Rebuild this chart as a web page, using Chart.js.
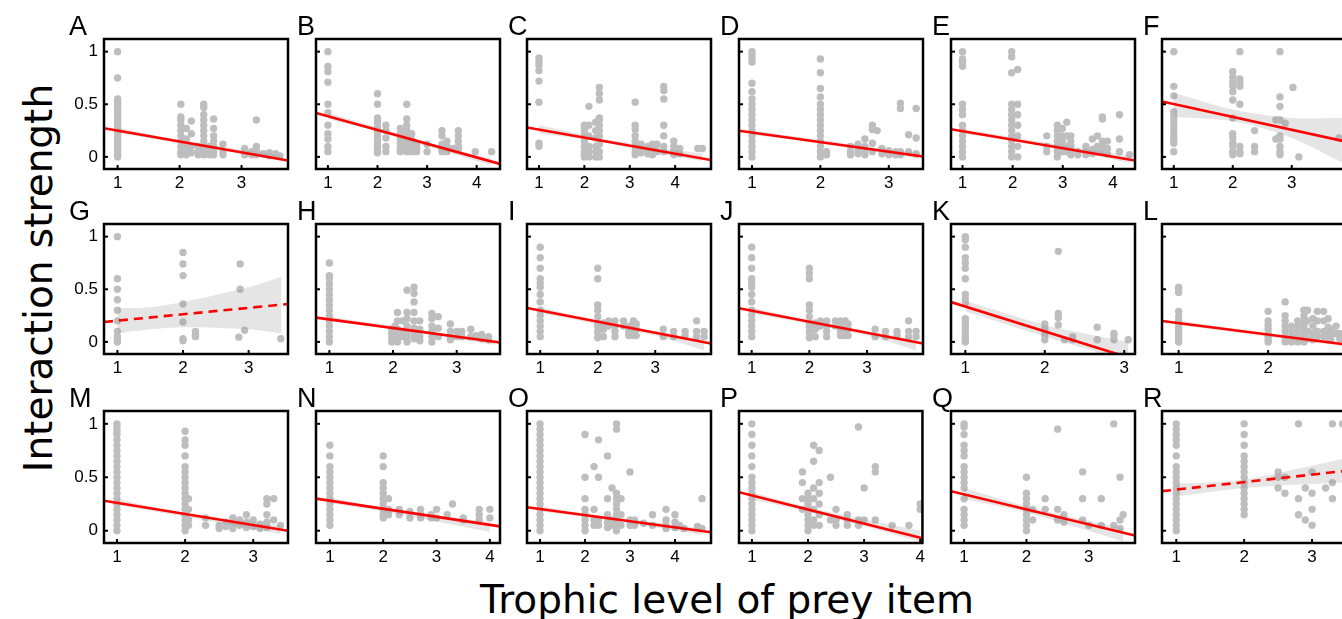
<!DOCTYPE html>
<html>
<head>
<meta charset="utf-8">
<script src="https://cdn.jsdelivr.net/npm/chart.js@4.4.0/dist/chart.umd.min.js"></script>
<style>
  body { margin: 0; width: 1342px; height: 619px; overflow: hidden; background: #fff; position: relative; }
  canvas { position: absolute; }
  .axis-title { position: absolute; font-family: "DejaVu Sans", sans-serif; font-size: 39px; color: #000; white-space: nowrap; }
  #ylab { left: 38px; top: 278px; transform: translate(-50%, -50%) rotate(-90deg); }
  #xlab { left: 727px; top: 599px; transform: translate(-50%, -50%); }
</style>
</head>
<body>
<div id="ylab" class="axis-title">Interaction strength</div>
<div id="xlab" class="axis-title">Trophic level of prey item</div>
<script>
// panel letters, axis ticks, x ranges
const panelLetters = ['A','B','C','D','E','F','G','H','I','J','K','L','M','N','O','P','Q','R'];
const xTicks = [
  [1,2,3],[1,2,3,4],[1,2,3,4],[1,2,3],[1,2,3,4],[1,2,3],
  [1,2,3],[1,2,3],[1,2,3],[1,2,3],[1,2,3],[1,2],
  [1,2,3],[1,2,3,4],[1,2,3,4],[1,2,3,4],[1,2,3],[1,2,3]
];
const xRanges = [
  [0.78,3.75],[0.76,4.47],[0.736,4.79],[0.81,3.5],[0.77,4.44],[0.8,3.92],
  [0.796,3.6],[0.79,3.68],[0.77,3.97],[0.78,3.97],[0.82,3.135],[0.814,2.87],
  [0.81,3.51],[0.74,4.19],[0.71,4.8],[0.77,4.04],[0.79,3.74],[0.79,3.5]
];
const yTicks = [0, 0.5, 1];
const yTickLabels = ['0', '0.5', '1'];

// points: [x, [y values at that x]]
const pointsA = [[1,[1,.75,.55,.52,.5,.47,.44,.41,.38,.35,.32,.29,.26,.23,.2,.17,.14,.11,.08,.05,.02,0]],[2.02,[.5,.38,.35,.3,.25,.2,.15,.1,.05,.02]],[2.11,[.27,.17,.1,.05,.02]],[2.19,[.34,.22,.1,.04]],[2.3,[.1,.05,.02]],[2.39,[.5,.47,.4,.35,.3,.25,.2,.15,.1,.05,.02]],[2.48,[.1,.05,.02]],[2.55,[.36,.27,.2,.15,.1,.05,.02]],[2.7,[.12,.05,.02]],[3.05,[.08,.04,.02]],[3.16,[.05,.02]],[3.24,[.35,.1,.06,.02]],[3.35,[.03]],[3.45,[.04,.01]],[3.55,[.03]],[3.62,[.01]]];
const pointsB = [[1,[1,.86,.81,.71,.5,.42,.3,.22,.17,.1,.05]],[2,[.6,.5,.37,.33,.28,.24,.2,.16,.12,.08,.04]],[2.17,[.3,.25,.18,.1,.05]],[2.46,[.27,.22,.17,.13,.08,.05]],[2.59,[.5,.36,.3,.25,.2,.15,.1,.05]],[2.69,[.22,.16,.1,.05]],[2.79,[.12,.08,.05]],[3,[.12,.05]],[3.3,[.25,.2,.12,.07,.05]],[3.4,[.15,.1,.05]],[3.53,[.08]],[3.63,[.25,.2,.15,.1,.07]],[3.97,[.05]],[4.3,[.05]]];
const pointsC = [[1,[.94,.9,.87,.82,.72,.52,.13,.1]],[2,[.3,.28,.25,.2,.15,.1,.05,.02,0]],[2.1,[.48,.3,.2,.1,.05,0]],[2.25,[.33,.25,.18,.1,.05,0]],[2.33,[.66,.6,.54,.37,.35,.3,.25,.2,.12,.05,0]],[3.12,[.52,.3,.26,.2,.15,.1,.05,.02]],[3.25,[.12,.08,.04]],[3.4,[.1,.06,.03]],[3.5,[.12,.08,.04,.02]],[3.6,[.12,.05]],[3.75,[.67,.63,.55,.3,.2,.1,.05]],[3.97,[.15,.1,.06,.02]],[4.1,[.08,.03]],[4.5,[.08]],[4.6,[.08]]];
const pointsD = [[1,[1,.97,.93,.9,.7,.62,.55,.5,.45,.4,.35,.3,.25,.2,.15,.1,.05,0]],[2,[.93,.8,.65,.57,.5,.45,.4,.35,.3,.25,.2,.15,.1,.05,0]],[2.09,[.05,.02]],[2.44,[.1,.05,.02]],[2.55,[.12,.07,.03]],[2.65,[.17,.1,.05,.02]],[2.76,[.3,.26,.13,.05]],[2.83,[.25]],[2.9,[.08,.03]],[3,[.06,.02]],[3.1,[.05,.02]],[3.17,[.51,.46,.05,.02]],[3.29,[.21,.05]],[3.4,[.46,.18,.03]]];
const pointsE = [[1,[1,.93,.9,.86,.5,.45,.4,.3,.25,.2,.15,.1,.05,0]],[1.98,[1,.95,.8,.5,.45,.4,.35,.3,.25,.2,.15,.1,.05,0]],[2.1,[.83,.5,.4,.3,.2,.1,0]],[2.68,[.2,.1,.05]],[2.89,[.3,.25,.2,.15,.1,.05,0]],[2.99,[.27,.2,.15,.1,.05]],[3.08,[.33,.2,.1,.05]],[3.16,[.2,.15,.1,.05,.02]],[3.3,[.05,.02]],[3.46,[.1,.05,.02]],[3.59,[.17,.07,.03]],[3.69,[.2,.1,.05]],[3.79,[.38,.36,.15,.1,.05]],[3.89,[.15,.08,.03]],[4.13,[.4,.17,.05]],[4.33,[.02]]];
const pointsF = [[1,[1,.67,.58,.43,.39,.35,.31,.27,.23,.19,.15,.13,.05]],[2,[.81,.76,.71,.67,.62,.54,.37,.22,.18,.13,.1,.05,.02]],[2.12,[1,.74,.7,.67,.5,.1,.05,.03]],[2.37,[.25,.1,.05]],[2.73,[.35,.17]],[2.8,[1,.57,.48,.35,.2,.17,.1,.05,.02]],[2.89,[.32]],[3.02,[.66]],[3.12,[0]],[3.8,[.18]]];
const pointsG = [[1,[1,.6,.5,.4,.3,.2,.1,.05,.03,0]],[2,[.85,.74,.63,.36,.19,.03,.01]],[2.19,[.1,.07,.05]],[2.85,[.045]],[2.87,[.74,.5]],[2.94,[.11]],[3.49,[.03]]];
const pointsH = [[1,[.75,.63,.6,.55,.5,.45,.4,.35,.3,.25,.2,.15,.1,.05,0]],[1.98,[.12,.08,.04,0]],[2.03,[.15,.1,.05,.01]],[2.07,[.28,.2,.12,.05,0]],[2.15,[.2,.1,.05]],[2.22,[.49,.28,.22,.15,.1,.05,0]],[2.33,[.52,.46,.38,.28,.2,.13,.08,.03]],[2.42,[.2,.12,.05,.01]],[2.61,[.27,.22,.15,.1,.05,0]],[2.71,[.24,.13,.05]],[2.9,[.17,.1,.05,.02]],[3,[.1,.05]],[3.08,[.1,.05]],[3.22,[.12,.05]],[3.3,[.06]],[3.39,[.07,.03]],[3.5,[.05,.02]]];
const pointsI = [[1,[.9,.8,.7,.6,.56,.52,.45,.38,.3,.25,.2,.15,.1,.05]],[2,[.7,.6,.35,.3,.24,.18,.14,.09,.04]],[2.1,[.18,.12,.05]],[2.19,[.2,.15]],[2.3,[.2,.15,.1,.05]],[2.45,[.2,.15]],[2.54,[.15,.1,.06]],[2.62,[.2,.17,.12,.08,.06]],[2.67,[.17,.12,.06]],[3.14,[.12,.05]],[3.32,[.1,.05]],[3.52,[.1,.06]],[3.72,[.2,.1,.05]],[3.85,[.1,.05]]];
const pointsJ = [[1,[.9,.8,.7,.6,.56,.52,.45,.38,.3,.25,.2,.15,.1,.05]],[2,[.7,.65,.6,.35,.3,.24,.18,.14,.09,.04]],[2.1,[.18,.12,.05]],[2.19,[.2,.15]],[2.3,[.2,.15,.1,.05]],[2.45,[.2,.15]],[2.54,[.2,.15,.1,.06]],[2.62,[.2,.17,.12,.08,.06]],[2.67,[.17,.12,.06]],[3.14,[.12,.05]],[3.32,[.1,.05]],[3.52,[.1,.06]],[3.72,[.2,.1,.05]],[3.85,[.1,.05]]];
const pointsK = [[1,[1,.97,.9,.8,.75,.7,.6,.45,.41,.37,.22,.18,.15,.12,.08,.05,.02,0]],[2,[.17,.13,.1,.06,.02]],[2.17,[.86,.27,.23,.16]],[2.25,[.02]],[2.35,[.05,.02]],[2.66,[.14,.02]],[2.87,[.08,.06,.02]],[3.05,[.02]]];
const pointsL = [[1,[.52,.5,.47,.29,.24,.2,.17,.14,.11,.08,.05,.02,0]],[2,[.29,.2,.16,.12,.08,.05,.02,0]],[2.19,[.38,.25,.2,.15,.1,.05,0]],[2.26,[.15,.1,.05,0]],[2.33,[.2,.15,.1,.05,0]],[2.4,[.3,.25,.2,.15,.1,.05,0]],[2.44,[.3,.2,.1,.03]],[2.5,[.22,.15,.08,.02]],[2.55,[.29,.2,.1,.05]],[2.62,[.29,.2,.1,.05]],[2.67,[.22,.14,.07,.02]],[2.7,[.12,.06,.02]],[2.76,[.15,.08]],[2.8,[.08,.03]],[2.85,[.05]]];
const pointsM = [[1,[1,.97,.93,.9,.85,.8,.75,.7,.65,.6,.55,.5,.45,.4,.35,.3,.25,.2,.15,.1,.05,0]],[2,[.93,.85,.8,.7,.6,.55,.5,.45,.4,.35,.3,.25,.2,.15,.1,.05,0]],[2.05,[.3,.2,.1,.05]],[2.3,[.12,.05]],[2.5,[.05,.02]],[2.6,[.08,.04]],[2.7,[.12,.06,.02]],[2.8,[.1,.05]],[2.9,[.15,.08,.03]],[3,[.1,.04]],[3.1,[.06,.02]],[3.2,[.3,.25,.15,.08,.03]],[3.3,[.3,.1]],[3.4,[.05]]];
const pointsN = [[1,[.8,.7,.6,.55,.5,.45,.4,.35,.3,.25,.2,.15,.1,.05]],[2,[.7,.6,.45,.4,.35,.3,.25,.2,.15,.12]],[2.1,[.3,.2,.15]],[2.3,[.2,.15]],[2.5,[.18,.12]],[2.7,[.2,.15,.12]],[2.9,[.15,.12]],[3,[.2,.12]],[3.2,[.15]],[3.3,[.25]],[3.5,[.12,.1]],[3.8,[.2,.15,.1]],[4,[.2,.12]]];
const pointsO = [[1,[1,.95,.9,.85,.8,.75,.7,.65,.6,.55,.5,.45,.4,.35,.3,.25,.2,.15,.1,.05,0]],[2,[.9,.5,.3,.2,.15,.1,.05,0]],[2.2,[.6,.2,.1,.05]],[2.3,[.85,.5,.1,.05]],[2.5,[.7,.3,.15,.08,.03]],[2.6,[.4,.1,.05]],[2.7,[1,.95,.35,.3,.25,.2,.15,.1,.05,0]],[2.8,[.3,.15,.05]],[3,[.55,.1,.05]],[3.1,[.1,.05]],[3.3,[.07]],[3.5,[.15,.05]],[3.8,[.2,.1,.05,.02]],[4,[.15,.08,.03]],[4.1,[.05]],[4.2,[.02]],[4.5,[.04]],[4.6,[.3,.02]]];
const pointsP = [[1,[1,.9,.8,.7,.6,.5,.45,.4,.35,.3,.25,.2,.15,.1,.05,0]],[1.9,[.55,.45,.3,.2]],[2,[.35,.3,.25,.2,.15,.1,.05,0]],[2.1,[.8,.65,.4,.3,.2,.1,.05]],[2.2,[.75,.45,.35,.25,.15,.05]],[2.4,[.5,.1]],[2.5,[.2,.1,.05]],[2.7,[.15,.1,.05]],[2.9,[.97,.1,.05]],[3,[.4,.1]],[3.2,[.6,.55,.1]],[3.5,[.05]],[3.8,[.05]],[4,[.25,.2]]];
const pointsQ = [[1,[1,.97,.9,.8,.75,.7,.6,.55,.5,.45,.4,.3,.2,.15,.1,.05]],[2,[.5,.35,.3,.25,.2,.15,.1,.05,0]],[2.1,[.2,.1]],[2.3,[.3,.2]],[2.5,[.95,.2,.1]],[2.6,[.15,.08]],[2.9,[.55,.3,.1]],[3,[.05]],[3.2,[.3,.05]],[3.4,[1,.05]],[3.5,[.5,.1,.02]],[3.55,[.15]]];
const pointsR = [[1,[1,.95,.9,.85,.8,.7,.6,.55,.5,.45,.4,.35,.3,.25,.2,.15,.1,.05,0]],[2,[1,.9,.8,.7,.65,.6,.55,.5,.45,.4,.35,.3,.25,.2,.15]],[2.5,[.55,.5,.4]],[2.6,[.5,.35]],[2.8,[1,.3,.15]],[2.9,[.4,.1]],[3,[.55,.35,.2,.05]],[3.2,[.4]],[3.3,[1,.45,.3]],[3.45,[1]]];
const panelPoints = [pointsA,pointsB,pointsC,pointsD,pointsE,pointsF,pointsG,pointsH,pointsI,pointsJ,pointsK,pointsL,pointsM,pointsN,pointsO,pointsP,pointsQ,pointsR];

// fitted line end points [x, y]
const fitLines = [
  [[0.78,0.273],[3.75,-0.035]],[[0.76,0.417],[4.47,-0.067]],[[0.736,0.279],[4.79,-0.029]],
  [[0.81,0.248],[3.5,0.003]],[[0.77,0.263],[4.44,-0.035]],[[0.8,0.527],[3.92,0.145]],
  [[0.796,0.189],[3.6,0.36]],[[0.79,0.231],[3.68,-0.006]],[[0.77,0.322],[3.97,-0.015]],
  [[0.78,0.32],[3.97,-0.015]],[[0.82,0.378],[3.135,-0.168]],[[0.814,0.199],[2.87,-0.025]],
  [[0.81,0.28],[3.51,0.0]],[[0.74,0.3],[4.19,0.04]],[[0.71,0.22],[4.8,-0.015]],
  [[0.77,0.36],[4.04,-0.07]],[[0.79,0.37],[3.74,-0.045]],[[0.79,0.37],[3.5,0.56]]
];
// non-significant fits (dashed)
const dashedFit = ['G', 'R'];

// confidence band [x, lower, upper]
const bands = [
  [[1,0.23,0.28],[2,0.13,0.16],[3,0.03,0.07],[3.65,-0.04,0.01]],
  [[1,0.36,0.42],[2,0.24,0.28],[3,0.1,0.14],[4.3,-0.08,-0.02]],
  [[1,0.22,0.3],[2,0.17,0.21],[3,0.09,0.13],[4.6,-0.04,0.03]],
  [[1,0.21,0.25],[2,0.13,0.16],[3,0.03,0.07],[3.45,-0.02,0.04]],
  [[1,0.22,0.26],[2,0.16,0.19],[3,0.08,0.11],[4.35,-0.06,0.01]],
  [[1,0.38,0.61],[2,0.34,0.45],[3,0.18,0.37],[3.85,-0.05,0.37]],
  [[1,0.08,0.32],[1.5,0.12,0.33],[2,0.14,0.38],[3,0.12,0.52],[3.5,0.08,0.62]],
  [[1,0.2,0.24],[2,0.12,0.15],[3,0.03,0.06],[3.6,-0.03,0.02]],
  [[1,0.27,0.33],[2,0.17,0.2],[3,0.06,0.1],[3.85,-0.08,0.02]],
  [[1,0.27,0.33],[2,0.17,0.2],[3,0.06,0.1],[3.85,-0.08,0.02]],
  [[1,0.29,0.39],[2,0.05,0.16],[2.5,-0.06,0.08],[3.05,-0.2,0.0]],
  [[1,0.16,0.2],[2,0.05,0.08],[2.85,-0.04,-0.01]],
  [[1,0.24,0.3],[2,0.13,0.16],[3.4,-0.03,0.05]],
  [[1,0.26,0.31],[2,0.18,0.21],[4,-0.01,0.08]],
  [[1,0.18,0.23],[2,0.13,0.16],[4.6,-0.04,0.02]],
  [[1,0.29,0.36],[2,0.18,0.22],[4,-0.1,0.0]],
  [[1,0.3,0.4],[2,0.17,0.23],[3.55,-0.1,0.02]],
  [[1,0.32,0.44],[2,0.4,0.48],[3.45,0.45,0.67]]
];

// layout
const boxLefts = [104, 316, 527, 739, 951, 1162];
const boxWidth = 184;
const rowTops = [39, 224, 411];
const rowHeights = [130, 130, 132];
const rowYRange = [[-0.115, 1.12], [-0.115, 1.12], [-0.115, 1.12]];
const ML = 40, MT = 30, MR = 6, MB = 30;
const FONT = '"Liberation Sans", Arial, sans-serif';

const framePlugin = {
  id: 'panelFrame',
  afterDraw(chart, args, opts) {
    const { ctx, chartArea: a, scales } = chart;
    ctx.save();
    ctx.strokeStyle = '#000';
    ctx.lineWidth = 2;
    // inward tick marks
    scales.x.ticks.forEach(t => {
      const px = scales.x.getPixelForValue(t.value);
      ctx.beginPath(); ctx.moveTo(px, a.bottom); ctx.lineTo(px, a.bottom - 4); ctx.stroke();
    });
    scales.y.ticks.forEach(t => {
      const py = scales.y.getPixelForValue(t.value);
      ctx.beginPath(); ctx.moveTo(a.left, py); ctx.lineTo(a.left + 4, py); ctx.stroke();
    });
    ctx.lineWidth = 2.5;
    ctx.strokeRect(a.left, a.top, a.right - a.left, a.bottom - a.top);
    ctx.fillStyle = '#000';
    ctx.font = '27px ' + FONT;
    ctx.textAlign = 'left';
    ctx.textBaseline = 'alphabetic';
    ctx.fillText(opts.letter, a.left - (opts.col === 0 ? 35 : 19), a.top - 4);
    ctx.restore();
  }
};

function expand(cols) {
  const out = [];
  cols.forEach(([x, ys]) => ys.forEach(y => out.push({ x: x, y: y })));
  return out;
}

panelLetters.forEach((letter, i) => {
  const row = Math.floor(i / 6), col = i % 6;
  const canvas = document.createElement('canvas');
  const w = boxWidth + ML + MR, h = rowHeights[row] + MT + MB;
  canvas.width = w; canvas.height = h;
  canvas.style.left = (boxLefts[col] - ML) + 'px';
  canvas.style.top = (rowTops[row] - MT) + 'px';
  canvas.style.width = w + 'px'; canvas.style.height = h + 'px';
  document.body.appendChild(canvas);

  const band = bands[i];
  const dashed = dashedFit.includes(letter);

  new Chart(canvas, {
    type: 'scatter',
    data: {
      datasets: [
        { data: expand(panelPoints[i]), backgroundColor: '#bebebe', borderWidth: 0, pointRadius: 3.7, order: 3 },
        { type: 'line', data: band.map(b => ({ x: b[0], y: b[2] })), borderWidth: 0, pointRadius: 0,
          fill: '+1', backgroundColor: 'rgba(150,150,150,0.25)', tension: 0.3, order: 2 },
        { type: 'line', data: band.map(b => ({ x: b[0], y: b[1] })), borderWidth: 0, pointRadius: 0,
          fill: false, tension: 0.3, order: 2 },
        { type: 'line', data: fitLines[i].map(p => ({ x: p[0], y: p[1] })), borderColor: '#ff0000',
          borderWidth: 2.6, borderDash: dashed ? [9, 6] : [], pointRadius: 0, fill: false, order: 1 }
      ]
    },
    options: {
      responsive: false,
      animation: false,
      devicePixelRatio: 1,
      events: [],
      layout: { padding: { left: 0, top: MT, right: MR, bottom: 0 } },
      plugins: {
        legend: { display: false },
        tooltip: { enabled: false },
        panelFrame: { letter: letter, col: col }
      },
      scales: {
        x: {
          type: 'linear',
          min: xRanges[i][0], max: xRanges[i][1],
          grid: { display: false, drawTicks: false },
          border: { display: false },
          afterBuildTicks: s => { s.ticks = xTicks[i].map(v => ({ value: v })); },
          afterFit: s => { s.height = MB; },
          ticks: { color: '#000', font: { family: FONT, size: 17 }, padding: 4, maxRotation: 0, autoSkip: false,
                   callback: v => String(v) }
        },
        y: {
          min: rowYRange[row][0], max: rowYRange[row][1],
          grid: { display: false, drawTicks: false },
          border: { display: false },
          afterBuildTicks: s => { s.ticks = yTicks.map(v => ({ value: v })); },
          afterFit: s => { s.width = ML; },
          ticks: { display: col === 0, color: '#000', font: { family: FONT, size: 17 }, padding: 6, autoSkip: false,
                   callback: v => yTickLabels[yTicks.indexOf(v)] }
        }
      }
    },
    plugins: [framePlugin]
  });
});
</script>
</body>
</html>
